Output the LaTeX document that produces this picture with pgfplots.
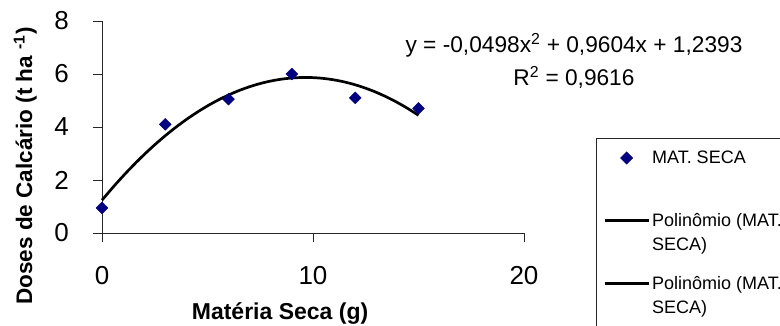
\documentclass[border=0pt]{standalone}
\usepackage{fontspec}
\setmainfont{Liberation Sans}
\usepackage{pgfplots}
\pgfplotsset{compat=1.18}
\definecolor{navy}{HTML}{000080}
\definecolor{axisgray}{HTML}{262626}
\pgfplotsset{
  linelegend/.style={legend image code/.code={\draw[##1] (0pt,30pt) -- (44pt,30pt);}},
  marklegend/.style={legend image code/.code={\path[draw=none,fill=none] (0pt,30pt) -- (44pt,30pt); \draw[##1] plot coordinates {(22pt,30pt)};}},
}
\begin{document}
\begin{tikzpicture}
\path[use as bounding box, clip] (0,0) rectangle (780pt,325pt);
\begin{axis}[
  at={(102pt,92pt)}, anchor=south west,
  scale only axis, width=422pt, height=212pt,
  xmin=0, xmax=20, ymin=0, ymax=8,
  clip=false,
  axis lines=left,
  axis line style={-, axisgray, line width=0.9pt},
  xtick={0,10,20}, ytick={0,2,4,6,8},
  tick align=outside, major tick length=9pt,
  tick style={axisgray, line width=0.9pt},
  /pgf/number format/assume math mode=true,
  ticklabel style={font=\fontsize{26}{30}\selectfont, inner sep=2pt},
  xticklabel style={anchor=north, yshift=-22pt},
  yticklabel style={anchor=east, xshift=-22pt},
  xlabel={Matéria Seca (g)},
  xlabel style={font=\bfseries\fontsize{23}{27}\selectfont, at={(axis description cs:0.422,-0.363)}, anchor=center, yshift=-4pt},
  ylabel={Doses de Calcário (t ha \textsuperscript{-1})},
  ylabel style={font=\bfseries\fontsize{22.5}{27}\selectfont, at={(axis description cs:-0.182,0.316)}, anchor=center},
  legend style={at={(axis description cs:1.1706,0.448)}, anchor=north west,
    draw=axisgray, line width=0.8pt, fill=white,
    font=\fontsize{18}{24}\selectfont,
    inner xsep=7pt, inner ysep=11pt, row sep=18pt,
    nodes={inner xsep=2pt, inner ysep=2pt, text depth=},
    cells={anchor=base west, align=left}},
]
\addplot[only marks, mark=square*, mark size=4.2pt,
  mark options={rotate=45, fill=navy, draw=navy}, marklegend]
  coordinates {(0,0.95) (3,4.1) (6,5.05) (9,6.0) (12,5.1) (15,4.7)};
\addlegendentry{MAT. SECA\\\phantom{)}}
\addplot[black, line width=2.7pt, smooth, linelegend] coordinates {
 (0,1.2393) (0.5,1.70705) (1,2.1499) (1.5,2.56785) (2,2.9609) (2.5,3.32905)
 (3,3.6723) (3.5,3.99065) (4,4.2841) (4.5,4.55265) (5,4.7963) (5.5,5.01505)
 (6,5.2089) (6.5,5.37785) (7,5.5219) (7.5,5.64105) (8,5.7353) (8.5,5.80465)
 (9,5.8491) (9.5,5.86865) (10,5.8633) (10.5,5.83305) (11,5.7779) (11.5,5.69785)
 (12,5.5929) (12.5,5.46305) (13,5.3083) (13.5,5.12865) (14,4.9241) (14.5,4.69465)
 (15,4.4403)};
\addlegendentry{Polinômio (MAT.\\SECA)}
\addlegendimage{black, line width=2.7pt, linelegend}
\addlegendentry{Polinômio (MAT.\\SECA)}
\addlegendimage{empty legend}
\addlegendentry{\phantom{X}\\\phantom{X}}
\end{axis}
\node[anchor=base, font=\fontsize{22.7}{27}\selectfont, inner sep=0pt] at (574pt,273pt) {y = -0,0498x\textsuperscript{2} + 0,9604x + 1,2393};
\node[anchor=base, font=\fontsize{22.7}{27}\selectfont, inner sep=0pt] at (574pt,240pt) {R\textsuperscript{2} = 0,9616};
\end{tikzpicture}
\end{document}
